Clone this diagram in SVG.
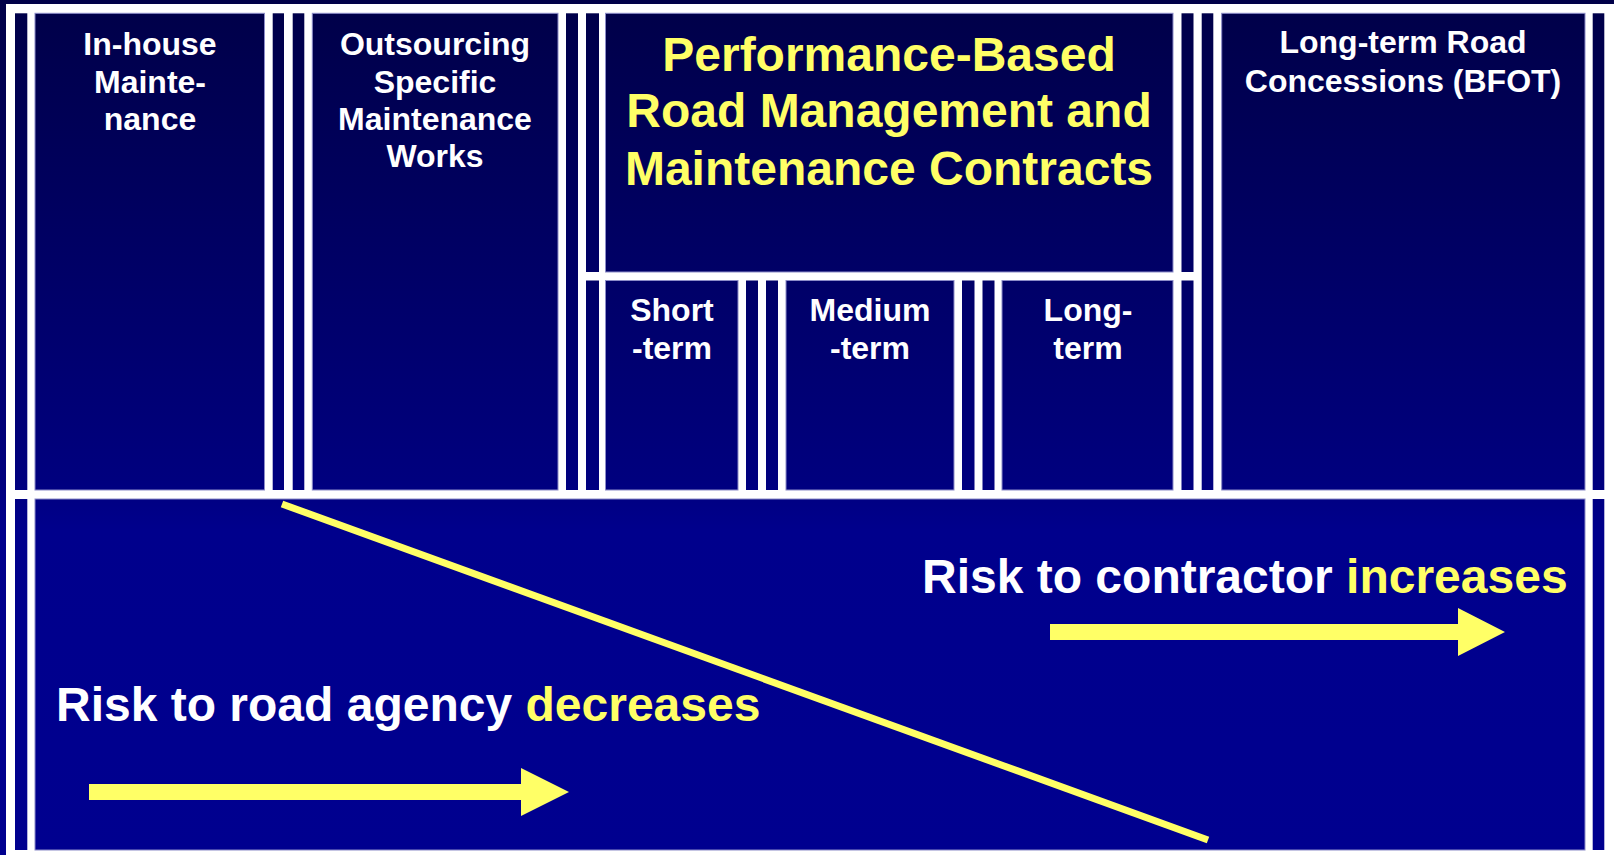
<svg xmlns="http://www.w3.org/2000/svg" width="1614" height="855" viewBox="0 0 1614 855">
<defs>
<linearGradient id="bg" gradientUnits="userSpaceOnUse" x1="0" y1="0" x2="0" y2="855">
<stop offset="0" stop-color="#000048"/>
<stop offset="0.56" stop-color="#00007E"/>
<stop offset="0.62" stop-color="#00008C"/>
<stop offset="1" stop-color="#00008F"/>
</linearGradient>
<style>
.d{fill:url(#bg);}
.box{fill:url(#bg);stroke:#8c8cc8;stroke-width:1;}
.t{font-family:"Liberation Sans",Arial,sans-serif;font-weight:bold;font-size:32px;fill:#ffffff;text-anchor:middle;}
.big{font-size:48px;fill:#ffff66;}
.risk{font-family:"Liberation Sans",Arial,sans-serif;font-weight:bold;font-size:48px;fill:#ffffff;}
.y{fill:#ffff66;}
</style>
</defs>
<rect x="0" y="0" width="1614" height="855" class="d"/>
<rect x="6" y="4" width="1608" height="851" fill="#ffffff"/>
<g id="strips">
<rect class="d" x="15" y="13.3" width="12.3" height="476.7"/>
<rect class="d" x="272.7" y="13.3" width="11.3" height="476.7"/>
<rect class="d" x="292.7" y="13.3" width="11.6" height="476.7"/>
<rect class="d" x="566" y="13.3" width="12" height="476.7"/>
<rect class="d" x="586" y="13.3" width="13" height="258.7"/>
<rect class="d" x="586" y="280.5" width="13" height="209.5"/>
<rect class="d" x="746" y="280.5" width="12" height="209.5"/>
<rect class="d" x="766" y="280.5" width="12" height="209.5"/>
<rect class="d" x="962" y="280.5" width="12.5" height="209.5"/>
<rect class="d" x="982.5" y="280.5" width="12" height="209.5"/>
<rect class="d" x="1181.5" y="13.3" width="12" height="258.7"/>
<rect class="d" x="1181.5" y="280.5" width="12" height="209.5"/>
<rect class="d" x="1201.7" y="13.3" width="11.6" height="476.7"/>
<rect class="d" x="1592.7" y="13.3" width="11.6" height="476.7"/>
<rect class="d" x="15" y="499" width="12.3" height="351"/>
<rect class="d" x="1592.7" y="499" width="11.6" height="351"/>
</g>
<g id="inhouse">
<rect class="box" x="35" y="13.3" width="229.5" height="476.7"/>
<text class="t" x="150" y="55">In-house</text>
<text class="t" x="150" y="92.6">Mainte-</text>
<text class="t" x="150" y="130.2">nance</text>
</g>
<g id="outsourcing">
<rect class="box" x="312.3" y="13.3" width="245.7" height="476.7"/>
<text class="t" x="435" y="55.2">Outsourcing</text>
<text class="t" x="435" y="92.6">Specific</text>
<text class="t" x="435" y="130">Maintenance</text>
<text class="t" x="435" y="167.4">Works</text>
</g>
<g id="pbc">
<rect class="box" x="605.5" y="13.3" width="567.5" height="258.7"/>
<text class="t big" x="889" y="70.5">Performance-Based</text>
<text class="t big" x="889" y="127">Road Management and</text>
<text class="t big" x="889" y="185">Maintenance Contracts</text>
</g>
<g id="short">
<rect class="box" x="605.5" y="280.5" width="132.5" height="209.5"/>
<text class="t" x="672" y="320.5">Short</text>
<text class="t" x="672" y="359">-term</text>
</g>
<g id="medium">
<rect class="box" x="786" y="280.5" width="168" height="209.5"/>
<text class="t" x="870" y="320.5">Medium</text>
<text class="t" x="870" y="359">-term</text>
</g>
<g id="long">
<rect class="box" x="1002" y="280.5" width="171" height="209.5"/>
<text class="t" x="1088" y="320.5">Long-</text>
<text class="t" x="1088" y="359">term</text>
</g>
<g id="concessions">
<rect class="box" x="1221.7" y="13.3" width="363.3" height="476.7"/>
<text class="t" x="1403" y="53.4">Long-term Road</text>
<text class="t" x="1403" y="91.6">Concessions (BFOT)</text>
</g>
<g id="risk">
<rect class="box" x="35" y="499" width="1550" height="351"/>
<text class="risk" x="922" y="593">Risk to contractor <tspan class="y">increases</tspan></text>
<text class="risk" x="56" y="721">Risk to road agency <tspan class="y">decreases</tspan></text>
</g>
<g id="connectors">
<line x1="282" y1="504" x2="1208" y2="840" stroke="#ffff66" stroke-width="7"/>
<polygon fill="#ffff66" points="1050,624 1458,624 1458,608 1505,632 1458,656 1458,640 1050,640"/>
<polygon fill="#ffff66" points="89,784 521,784 521,768 569,792 521,816 521,800 89,800"/>
</g>
</svg>
